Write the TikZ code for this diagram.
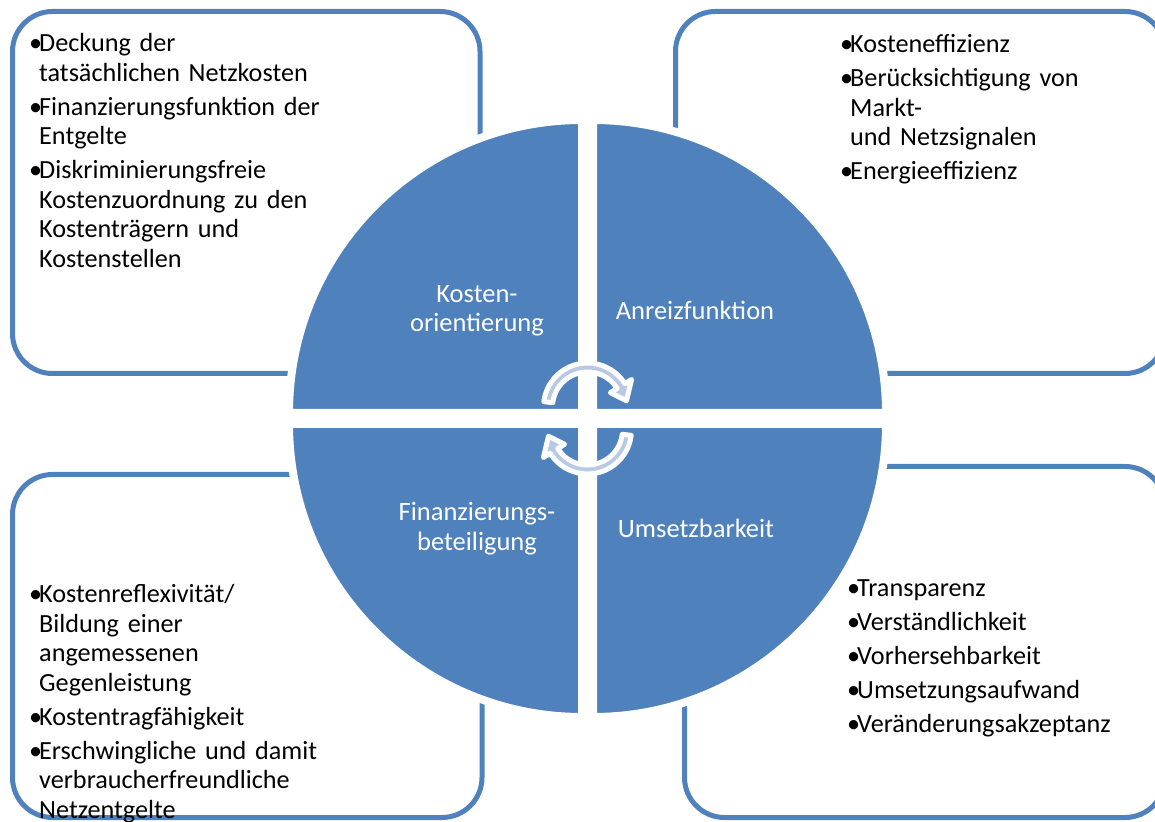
\documentclass[tikz,border=0pt]{standalone}
\usepackage{fontspec}
\setmainfont{Carlito}
\usetikzlibrary{positioning,calc}
\definecolor{qblue}{RGB}{79,129,189}
\definecolor{arrlight}{RGB}{185,201,228}

\newcommand{\bul}[1]{\par\hangindent=10pt\hangafter=1\noindent\makebox[10pt][l]{\textbullet}#1}

\tikzset{
  infobox/.style={draw=qblue, line width=5pt, fill=white, rounded corners=40pt},
  quarter/.style={fill=qblue, draw=white, line width=8pt},
  cyclearrow/.style={fill=arrlight, draw=white, line width=5pt, line join=round},
  bullets/.style={anchor=base west, inner sep=0pt, text width=#1, align=left,
    font=\fontsize{26.2}{29.5}\selectfont, execute at begin node=\setlength{\parskip}{4.5pt}},
  qlabel/.style={text=white, align=center, inner sep=0pt, font=\fontsize{26.5}{29.5}\selectfont}
}

\begin{document}
\begin{tikzpicture}[x=1pt, y=1pt]
  \useasboundingbox (0,0) rectangle (1155,821);

  % --- the four boxes behind the circle
  \draw[infobox] (12.5,447.5) rectangle (480,809.5);
  \draw[infobox] (675.5,447.5) rectangle (1165,809.5);
  \draw[infobox] (12.5,3.5) rectangle (482,346.5);
  \draw[infobox] (684.5,3.5) rectangle (1165,354.5);

  % --- the circle, cut in quarters
  \coordinate (ctr) at (587.5,402.5);
  \begin{scope}[shift={(ctr)}]
    \foreach \a in {0,90,180,270}
      \draw[quarter, rotate=\a] (5.5,5.5) -- (5.5,298.5) arc[start angle=90, end angle=0, radius=293] -- cycle;
    \foreach \a in {0,180}
      \draw[cyclearrow, rotate=\a, shift={(0,11.5)}] (173:44) arc[start angle=173, end angle=32, radius=44]
        -- (32:52) -- (9:39.5) -- (32:27) -- (32:35) arc[start angle=32, end angle=173, radius=35] -- cycle;
  \end{scope}

  % --- quarter labels
  \node[qlabel] (lblKosten) at (477,510) {Kosten-\\orientierung};
  \node[qlabel] (lblAnreiz) at (695,511) {Anreizfunktion};
  \node[qlabel] (lblFinanz) at (477,292.5) {Finanzierungs-\\beteiligung};
  \node[qlabel] (lblUmsetz) at (696,293) {Umsetzbarkeit};

  % --- bullet texts
  \node[bullets=440pt] (txtKosten) at (29,803) {%
    \bul{Deckung der\newline tatsächlichen Netzkosten}
    \bul{Finanzierungsfunktion der\newline Entgelte}
    \bul{Diskriminierungsfreie\newline Kostenzuordnung zu den\newline Kostenträgern und\newline Kostenstellen}\par};
  \node[bullets=300pt] (txtAnreiz) at (840,802) {%
    \bul{Kosteneffizienz}
    \bul{Berücksichtigung von\newline Markt-\newline und Netzsignalen}
    \bul{Energieeffizienz}\par};
  \node[bullets=440pt] (txtFinanz) at (29,252) {%
    \bul{Kostenreflexivität/\newline Bildung einer\newline angemessenen\newline Gegenleistung}
    \bul{Kostentragfähigkeit}
    \bul{Erschwingliche und damit\newline verbraucherfreundliche\newline Netzentgelte}\par};
  \node[bullets=300pt] (txtUmsetz) at (847,258) {%
    \bul{Transparenz}
    \bul{Verständlichkeit}
    \bul{Vorhersehbarkeit}
    \bul{Umsetzungsaufwand}
    \bul{Veränderungsakzeptanz}\par};
\end{tikzpicture}
\end{document}
